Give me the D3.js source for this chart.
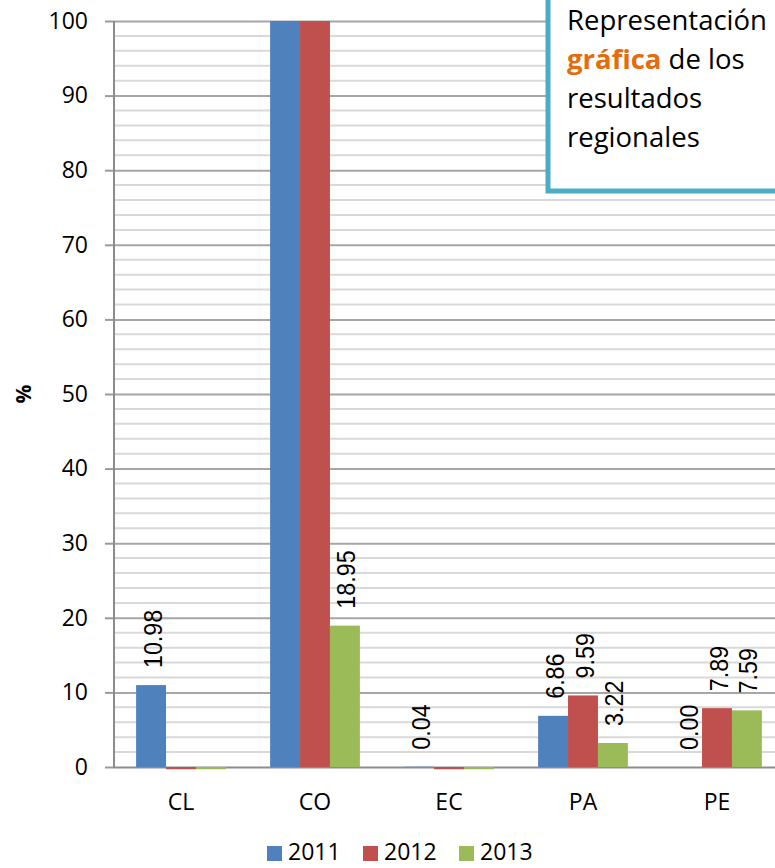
<!DOCTYPE html>
<html>
<head>
<meta charset="utf-8">
<script src="https://cdn.jsdelivr.net/npm/d3@7"></script>
<style>
  body { margin: 0; background: #fff; }
  svg { display: block; }
</style>
</head>
<body>
<script>
// values (CO 2011/2012 are clipped at the 100 limit)
const categories = ['CL', 'CO', 'EC', 'PA', 'PE'];
const years = ['2011', '2012', '2013'];
const values2011 = [10.98, 100, 0.04, 6.86, 0.00];
const values2012 = [-0.3, 100, -0.3, 9.59, 7.89];
const values2013 = [-0.3, 18.95, -0.3, 3.22, 7.59];
const labels2011 = ['10.98', null, '0.04', '6.86', '0.00'];
const labels2012 = [null, null, null, '9.59', '7.89'];
const labels2013 = [null, '18.95', null, '3.22', '7.59'];
const majorTicks = [0, 10, 20, 30, 40, 50, 60, 70, 80, 90, 100];
const colors = ['#4f81bd', '#c0504d', '#9bbb59'];

const width = 775;
const height = 868;
const plotLeft = 114;
const plotRight = 784;
const plotTop = 21;
const plotBottom = 767;
const font = '"Open Sans", Lato, sans-serif';

const svg = d3.select('body')
  .append('svg')
  .attr('width', width)
  .attr('height', height);

const y = d3.scaleLinear().domain([0, 100]).range([plotBottom, plotTop]);
const x = d3.scaleBand()
  .domain(categories)
  .range([plotLeft, plotRight])
  .paddingInner(0.33)
  .paddingOuter(0.165);
const xs = d3.scaleBand().domain(years).range([0, x.bandwidth()]);

// minor gridlines
svg.append('g')
  .selectAll('line')
  .data(d3.range(2, 101, 2).filter(v => v % 10 !== 0))
  .enter()
  .append('line')
  .attr('x1', plotLeft).attr('x2', width)
  .attr('y1', d => y(d)).attr('y2', d => y(d))
  .attr('stroke', '#d9d9d9')
  .attr('stroke-width', 2);

// major gridlines + y axis
const yAxis = svg.append('g')
  .attr('transform', `translate(${plotLeft},0)`)
  .call(d3.axisLeft(y).tickValues(majorTicks).tickSize(9).tickPadding(17))
  .call(g => g.select('.domain').remove());
yAxis.selectAll('.tick line').attr('stroke', '#9a9a9a').attr('stroke-width', 2);
yAxis.selectAll('.tick')
  .append('line')
  .attr('x1', 0).attr('x2', width - plotLeft)
  .attr('stroke', d => d === 0 ? '#8c8c8c' : '#a6a6a6')
  .attr('stroke-width', 2);
yAxis.selectAll('.tick text')
  .attr('font-family', font)
  .attr('font-size', 23)
  .attr('fill', '#000');

svg.append('line')
  .attr('x1', plotLeft).attr('x2', plotLeft)
  .attr('y1', plotTop).attr('y2', plotBottom + 1)
  .attr('stroke', '#8c8c8c')
  .attr('stroke-width', 2);

// bars
const series = [values2011, values2012, values2013];
const labels = [labels2011, labels2012, labels2013];
series.forEach((vals, s) => {
  const g = svg.append('g');
  g.selectAll('rect')
    .data(vals)
    .enter()
    .append('rect')
    .attr('x', (d, i) => x(categories[i]) + xs(years[s]))
    .attr('width', xs.bandwidth())
    .attr('y', d => y(Math.max(d, 0)))
    .attr('height', d => Math.abs(y(d) - y(0)))
    .attr('fill', colors[s]);

  g.selectAll('text')
    .data(vals.map((v, i) => ({ v, i, label: labels[s][i] })).filter(d => d.label !== null))
    .enter()
    .append('text')
    .attr('transform', d => {
      const cx = x(categories[d.i]) + xs(years[s]) + xs.bandwidth() / 2 + 1;
      const cy = y(Math.max(d.v, 0)) - 17;
      return `translate(${cx},${cy}) rotate(-90) scale(0.88,1)`;
    })
    .attr('dy', '0.36em')
    .attr('font-family', '"Liberation Sans", Arial, sans-serif')
    .attr('font-size', 26.5)
    .text(d => d.label);
});

// category labels
svg.append('g')
  .selectAll('text')
  .data(categories)
  .enter()
  .append('text')
  .attr('x', d => x(d) + x.bandwidth() / 2)
  .attr('y', 810)
  .attr('text-anchor', 'middle')
  .attr('font-family', font)
  .attr('font-size', 23)
  .text(d => d);

// y axis title
svg.append('text')
  .attr('transform', 'translate(24,394) rotate(-90)')
  .attr('text-anchor', 'middle')
  .attr('dy', '0.35em')
  .attr('font-family', font)
  .attr('font-weight', 'bold')
  .attr('font-size', 21)
  .text('%');

// legend
const legendX = [267, 363, 459];
const legend = svg.append('g');
years.forEach((yr, i) => {
  legend.append('rect')
    .attr('x', legendX[i]).attr('y', 846)
    .attr('width', 15).attr('height', 15)
    .attr('fill', colors[i]);
  legend.append('text')
    .attr('x', legendX[i] + 21).attr('y', 860)
    .attr('font-family', font)
    .attr('font-size', 23)
    .text(yr);
});

// text box
svg.append('rect')
  .attr('x', 548).attr('y', -10)
  .attr('width', 260).attr('height', 201)
  .attr('fill', '#fff')
  .attr('stroke', '#4bacc6')
  .attr('stroke-width', 5);

const box = svg.append('text')
  .attr('font-family', font)
  .attr('font-size', 27.5)
  .attr('fill', '#000');
box.append('tspan').attr('x', 567).attr('y', 30).text('Representación');
box.append('tspan').attr('x', 567).attr('y', 69)
  .attr('fill', '#e46c0a').attr('font-weight', 'bold').text('gráfica');
box.append('tspan').text(' de los');
box.append('tspan').attr('x', 567).attr('y', 108).text('resultados');
box.append('tspan').attr('x', 567).attr('y', 147).text('regionales');
</script>
</body>
</html>
